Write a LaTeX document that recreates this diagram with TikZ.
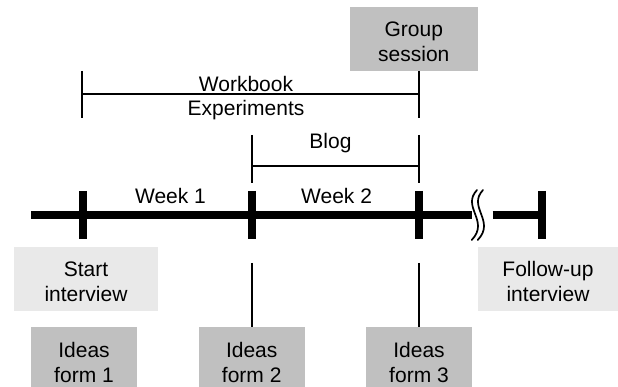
\documentclass[tikz,border=0pt]{standalone}
\usepackage{fontspec}
\setmainfont{Liberation Sans}
\definecolor{boxdark}{RGB}{192,192,192}
\definecolor{boxlight}{RGB}{233,233,233}
\newcommand{\dgfont}{\fontsize{21}{25}\selectfont}
\begin{document}
\begin{tikzpicture}[x=1pt,y=-1pt,
  boxtext/.style={font=\dgfont, align=center, inner sep=0pt, yshift=-2.5pt},
  darkbox/.style={fill=boxdark, inner sep=0pt},
  lightbox/.style={fill=boxlight, inner sep=0pt, minimum height=64pt},
  ideasbox/.style={darkbox, minimum width=106pt, minimum height=65pt},
  lbl/.style={font=\dgfont, inner sep=0pt, anchor=base},
  thin/.style={line width=2.3pt},
  mainline/.style={line width=8pt},
  tickmark/.style={line width=8pt},
  brk/.style={line width=1.7pt, line cap=round}]
\useasboundingbox (0,0) rectangle (618,387);

% boxes
\node[darkbox, minimum width=127.7pt, minimum height=64pt,
  label={[boxtext]center:Group\\session}] (gs) at (413.8,39) {};
\node[lightbox, minimum width=144pt,
  label={[boxtext]center:Start\\interview}] (si) at (86,279) {};
\node[lightbox, minimum width=140pt,
  label={[boxtext]center:Follow-up\\interview}] (fu) at (548,279) {};
\node[ideasbox, label={[boxtext]center:Ideas\\form 1}] (i1) at (84,359.5) {};
\node[ideasbox, label={[boxtext]center:Ideas\\form 2}] (i2) at (251.7,359.5) {};
\node[ideasbox, label={[boxtext]center:Ideas\\form 3}] (i3) at (419,359.5) {};

% timeline coordinates
\coordinate (lineL) at (31,215);
\coordinate (t1) at (82.5,215);
\coordinate (t2) at (251.7,215);
\coordinate (t3) at (419,215);
\coordinate (t4) at (541.7,215);
\coordinate (brkL) at (471.7,215);
\coordinate (brkR) at (492.5,215);

\draw[mainline] (lineL) -- (brkL);
\draw[mainline] (brkR) -- (t4);
\foreach \t in {t1,t2,t3,t4}
  \draw[tickmark] (\t) ++(0,-24) -- ++(0,48);

% break mark
\draw[brk] (477,190) .. controls (461,207) and (490,221) .. (471.7,240);
\draw[brk] (483,190) .. controls (467,207) and (496,221) .. (477.7,240);

% week labels
\node[lbl] (w1) at (170.5,204) {Week 1};
\node[lbl] (w2) at (336.6,204) {Week 2};

% workbook bracket
\coordinate (wbLt) at (82.3,71);
\coordinate (wbLb) at (82.3,118);
\coordinate (wbRt) at (419,71);
\coordinate (wbRb) at (419,118);
\coordinate (wbLm) at (82.3,94.3);
\coordinate (wbRm) at (419,94.3);
\draw[thin] (wbLt) -- (wbLb);
\draw[thin] (wbRt) -- (wbRb);
\draw[thin] (wbLm) -- (wbRm);
\node[lbl] (wb) at (246,91.7) {Workbook};
\node[lbl] (ex) at (246,116) {Experiments};

% blog bracket
\coordinate (blLt) at (251.7,135);
\coordinate (blLb) at (251.7,183);
\coordinate (blRt) at (419,135);
\coordinate (blRb) at (419,183);
\coordinate (blLm) at (251.7,165.7);
\coordinate (blRm) at (419,165.7);
\draw[thin] (blLt) -- (blLb);
\draw[thin] (blRt) -- (blRb);
\draw[thin] (blLm) -- (blRm);
\node[lbl] (bl) at (330.5,148.3) {Blog};

% connectors to idea forms
\coordinate (c2) at (251.7,263);
\coordinate (c3) at (419,263);
\draw[thin] (c2) -- (i2.north);
\draw[thin] (c3) -- (i3.north);
\end{tikzpicture}
\end{document}
